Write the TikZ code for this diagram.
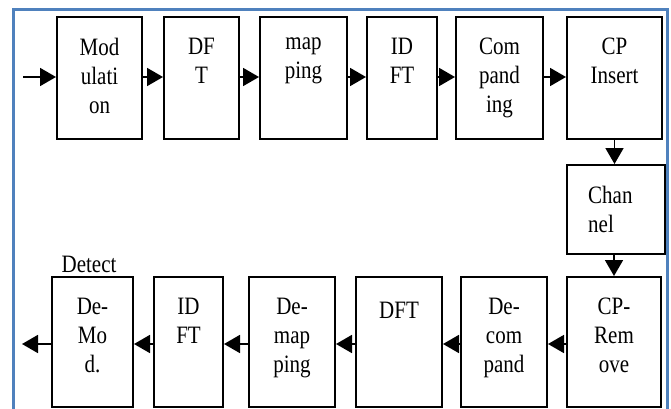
\documentclass[tikz,border=0pt]{standalone}
\usepackage{fontspec}
\setmainfont[FakeStretch=0.84]{Liberation Serif}
\usetikzlibrary{arrows.meta}

\definecolor{framecol}{RGB}{79,129,189}
\tikzstyle{block}=[draw, line width=2pt, minimum height=122pt, inner sep=0pt]
\tikzstyle{lowblock}=[block, minimum height=130pt]
\tikzstyle{txt}=[anchor=north, yshift=-22pt, align=center, inner sep=0pt, execute at begin node=\strut]
\tikzstyle{arr}=[line width=1.8pt, -{Triangle[length=16pt,width=18pt]}]

\begin{document}
\begin{tikzpicture}[x=1pt, y=-1pt, font=\fontsize{25}{29}\selectfont]
\useasboundingbox (0,0) rectangle (671,409);
\draw [framecol, line width=3pt] (13,409) -- (13,10) -- (667,10) -- (667,409);

% transmitter
\node [block, minimum width=85pt, label={[txt]north:Mod\\ulati\\on}] (mod) at (99.5,78) {};
\node [block, minimum width=75pt, label={[txt]north:DF\\T}] (dft) at (201.5,78) {};
\node [block, minimum width=87pt, label={[txt]north:map\\ping}] (map) at (303.5,78) {};
\node [block, minimum width=70pt, label={[txt]north:ID\\FT}] (idft) at (402,78) {};
\node [block, minimum width=87pt, label={[txt]north:Com\\pand\\ing}] (comp) at (499.5,78) {};
\node [block, minimum width=95pt, label={[txt]north:CP\\Insert}] (cpins) at (614.5,78) {};

% channel
\node [block, minimum width=98pt, minimum height=89pt,
  label={[txt, anchor=north west, align=left, xshift=22pt]north west:Chan\\nel}] (chan) at (616,209.5) {};

% receiver
\node [lowblock, minimum width=94pt, label={[txt]north:CP-\\Rem\\ove}] (cprem) at (614,342) {};
\node [lowblock, minimum width=86pt, label={[txt]north:De-\\com\\pand}] (dcomp) at (504,342) {};
\node [lowblock, minimum width=86pt, label={[txt]north:DFT}] (rdft) at (399,342) {};
\node [lowblock, minimum width=86pt, label={[txt]north:De-\\map\\ping}] (dmap) at (292,342) {};
\node [lowblock, minimum width=69pt, label={[txt]north:ID\\FT}] (ridft) at (188.5,342) {};
\node [lowblock, minimum width=81pt, label={[txt]north:De-\\Mo\\d.}] (dmod) at (92.5,342) {};
\node [anchor=base, inner sep=0pt] (det) at (89,272) {Detect};

\coordinate (in) at (23,77);
\coordinate (out) at (22,344);

\draw [arr] (in) -- (in -| mod.west);
\foreach \a/\b in {mod/dft, dft/map, map/idft, idft/comp, comp/cpins}
  \draw [arr] (\a.east |- in) -- (\b.west |- in);
\draw [arr] (cpins.south) -- (cpins.south |- chan.north);
\draw [arr] (cprem.north |- chan.south) -- (cprem.north);
\foreach \a/\b in {cprem/dcomp, dcomp/rdft, rdft/dmap, dmap/ridft, ridft/dmod}
  \draw [arr] (\a.west |- out) -- (\b.east |- out);
\draw [arr] (dmod.west |- out) -- (out);
\end{tikzpicture}
\end{document}
